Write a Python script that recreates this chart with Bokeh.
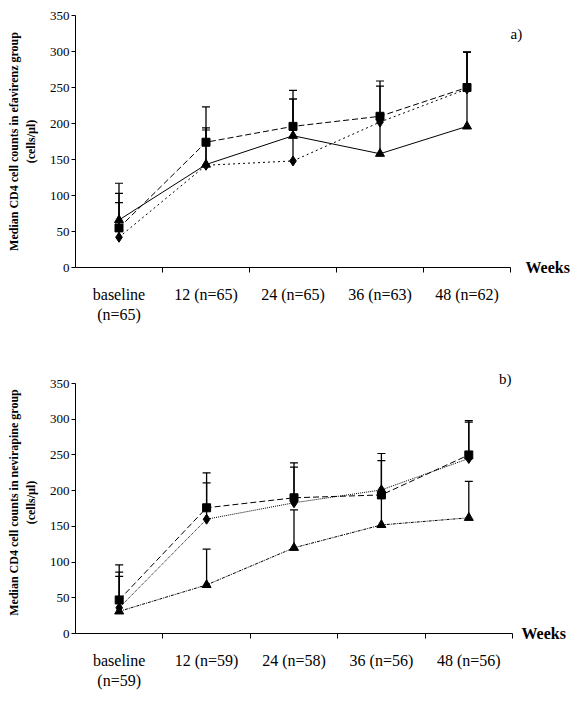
from bokeh.plotting import figure
from bokeh.models import Range1d, FixedTicker, Label, LinearAxis
from bokeh.layouts import column
from bokeh.embed import file_html
from bokeh.resources import INLINE

NaN = float("nan")

# ---- data: panel a) efavirenz group ----
cats_a = ["baseline\n(n=65)", "12 (n=65)", "24 (n=65)", "36 (n=63)", "48 (n=62)"]
sq_a = [55, 174, 196, 210, 250]
sq_a_up = [117, 223, 246, 259, 299]
tri_a = [66, 143, 183, 158, 196]
tri_a_up = [103, 194, 234, 252, 299]
dia_a = [42, 142, 148, 202, 248]
dia_a_up = [90, 191, 234, NaN, 299]

# ---- data: panel b) nevirapine group ----
cats_b = ["baseline\n(n=59)", "12 (n=59)", "24 (n=58)", "36 (n=56)", "48 (n=56)"]
sq_b = [47, 176, 190, 194, 250]
sq_b_up = [96, 225, 239, 242, 298]
dia_b = [36, 160, 183, 201, 245]
dia_b_up = [86, 211, 233, 252, 296]
tri_b = [31, 68, 120, 152, 162]
tri_b_up = [80, 118, 173, 195, 213]

y_ticks = [0, 50, 100, 150, 200, 250, 300, 350]
Y_MAX = 350

SERIF = "Liberation Serif"


def text_axis(loc, label, size, style, standoff):
    ax = LinearAxis(ticker=FixedTicker(ticks=[loc], minor_ticks=[]))
    ax.major_label_overrides = {loc: label}
    ax.axis_line_color = None
    ax.major_tick_line_color = None
    ax.minor_tick_line_color = None
    ax.major_tick_out = 0
    ax.major_tick_in = 0
    ax.major_label_standoff = standoff
    ax.major_label_text_font = SERIF
    ax.major_label_text_font_size = size
    ax.major_label_text_font_style = style
    ax.major_label_text_color = "black"
    return ax


def panel(cats, series, ytitle, tag, tag_y, tag_inside,
          left, top, bottom, fw, fh, extra_t, weeks_standoff):
    n = len(cats)
    xs = [i + 0.5 for i in range(n)]
    y_end = Y_MAX * (fh + extra_t) / fh
    p = figure(frame_width=fw, frame_height=fh + extra_t,
               x_range=Range1d(0, n), y_range=Range1d(0, y_end),
               output_backend="svg", toolbar_location=None,
               min_border_left=left, min_border_right=0,
               min_border_top=top, min_border_bottom=bottom)
    p.grid.visible = False
    p.outline_line_color = None
    p.background_fill_color = "white"

    for vals, ups, marker, msize, dash in series:
        p.line(xs, vals, line_color="black", line_width=1, line_dash=dash)
        p.segment(x0=xs, y0=vals, x1=xs, y1=ups, line_color="black", line_width=1.3)
        p.scatter(xs, ups, marker="dash", size=8, line_color="black", line_width=1.2)
        p.scatter(xs, vals, marker=marker, size=msize, color="black")

    # axis line with boundary ticks (no labels)
    xa = p.xaxis[0]
    xa.ticker = FixedTicker(ticks=[i + 1 for i in range(n)], minor_ticks=[])
    xa.major_label_overrides = {i + 1: "" for i in range(n)}
    xa.major_tick_out = 5
    xa.major_tick_in = 0
    xa.major_tick_line_color = "black"
    xa.axis_line_color = "black"
    xa.major_label_standoff = 0

    # category labels centred between the ticks
    xb = LinearAxis(ticker=FixedTicker(ticks=xs, minor_ticks=[]))
    xb.major_label_overrides = {x: c for x, c in zip(xs, cats)}
    xb.axis_line_color = None
    xb.major_tick_line_color = None
    xb.minor_tick_line_color = None
    xb.major_tick_out = 0
    xb.major_tick_in = 0
    xb.major_label_standoff = 13
    xb.major_label_text_font = SERIF
    xb.major_label_text_font_size = "16px"
    xb.major_label_text_color = "black"
    p.add_layout(xb, "below")

    ya = p.yaxis[0]
    ya.bounds = (0, Y_MAX)
    ya.ticker = FixedTicker(ticks=y_ticks, minor_ticks=[])
    ya.major_tick_out = 4
    ya.major_tick_in = 0
    ya.major_tick_line_color = "black"
    ya.axis_line_color = "black"
    ya.major_label_standoff = 2
    ya.major_label_text_font = SERIF
    ya.major_label_text_font_size = "13px"
    ya.major_label_text_color = "black"
    ya.axis_label = ytitle
    ya.axis_label_text_font = SERIF
    ya.axis_label_text_font_size = "12px"
    ya.axis_label_text_font_style = "bold"
    ya.axis_label_text_color = "black"
    ya.axis_label_standoff = 9

    if tag_inside:
        p.add_layout(Label(x=n, y=tag_y, x_offset=-1, text=tag, text_font=SERIF,
                           text_font_size="15px", text_baseline="middle",
                           text_align="right", text_color="black"))
    else:
        p.add_layout(text_axis(tag_y, tag, "15px", "normal", 0), "right")
    p.add_layout(text_axis(0, "Weeks", "16px", "bold", weeks_standoff), "right")
    return p


pa = panel(cats_a,
           [(tri_a, tri_a_up, "triangle", 9, "solid"),
            (sq_a, sq_a_up, "square", 8, "6 3"),
            (dia_a, dia_a_up, "diamond", 10, "2 3")],
           "Median CD4 cell counts in efavirenz group\n(cells/\u00b5l)",
           "a)", 325, False, 75, 15, 71, 435, 252, 0, 0)

pb = panel(cats_b,
           [(sq_b, sq_b_up, "square", 8, "6 3"),
            (dia_b, dia_b_up, "diamond", 10, "1 1"),
            (tri_b, tri_b_up, "triangle", 9, "3 1 1 1")],
           "Median CD4 cell counts in nevirapine group\n(cells/\u00b5l)",
           "b)", 357, True, 73, 33, 60, 437, 250, 12, 9)

layout = column(pa, pb, spacing=0)
open("out.html", "w").write(file_html(layout, INLINE))
